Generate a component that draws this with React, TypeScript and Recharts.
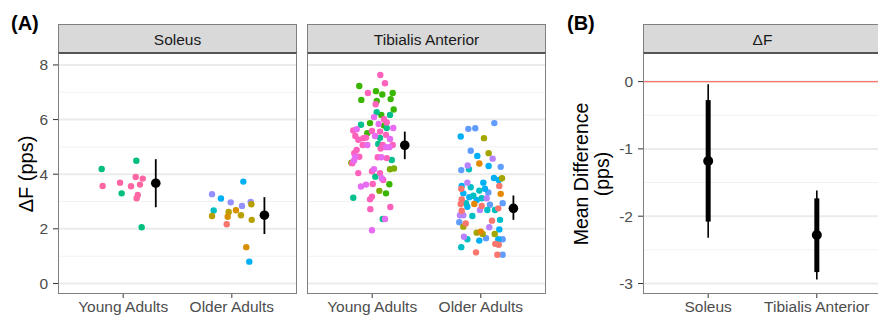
import { ScatterChart, Scatter, XAxis, YAxis, ReferenceLine, ErrorBar } from 'recharts';

const groupLabels = ['Young Adults', 'Older Adults'];
const muscleLabels = ['Soleus', 'Tibialis Anterior'];
const dfTicks = [0, 2, 4, 6, 8];
const dfMinor = [1, 3, 5, 7];
const diffTicks = [-3, -2, -1, 0];
const diffMinor = [-2.5, -1.5, -0.5];

// participant points: [jittered x position, ΔF (pps)]
const solYoungGreen = [[0.802, 4.19], [1.121, 4.49], [0.986, 3.3], [1.17, 2.06]];
const solYoungPink = [[0.811, 3.57], [0.971, 3.69], [1.072, 3.56], [1.115, 3.9], [1.18, 3.84], [1.155, 3.62], [1.134, 3.24], [1.124, 3.12]];
const solOldLavender = [[1.818, 3.27], [1.99, 2.97], [2.094, 2.84], [2.174, 2.98]];
const solOldBlue = [[1.9, 3.11], [2.106, 3.73], [2.161, 0.8]];
const solOldTeal = [[1.833, 2.67]];
const solOldOlive = [[2.18, 2.9], [1.818, 2.47], [1.971, 2.62], [2.084, 2.5], [2.183, 2.33]];
const solOldOrange = [[2.038, 2.68], [1.962, 2.44], [2.133, 1.33]];
const solOldSalmon = [[1.953, 2.17]];

const taYoungPink = [[1.075, 7.63], [1.118, 7.33], [0.961, 6.97], [1.032, 6.56], [1.109, 6.01], [1.134, 5.89], [0.826, 5.6], [0.998, 5.58], [1.072, 5.56], [0.845, 5.4], [1.127, 5.44], [0.918, 5.32], [0.872, 5.26], [0.943, 5.34], [0.913, 5.07], [1.097, 5.07], [1.189, 5.07], [1.078, 4.94], [0.857, 4.89], [0.835, 4.77], [0.881, 4.64], [1.051, 4.62], [1.134, 4.59], [0.817, 4.4], [0.872, 4.04], [0.998, 4.11], [1.072, 4.04], [1.102, 3.79], [1.005, 3.64], [0.998, 3.18], [0.98, 3.08], [1.167, 2.8], [0.983, 2.72]];
const taYoungMagenta = [[1.017, 6.09], [1.06, 5.84], [1.194, 5.69], [0.857, 5.65], [1.026, 5.4], [1.164, 5.29], [0.955, 5.07], [1.127, 4.99], [1.158, 4.99], [0.845, 4.64], [1.084, 4.62], [0.833, 4.5], [1.017, 4.18], [1.088, 3.85], [0.943, 3.62], [0.897, 3.55], [1.118, 2.36], [0.998, 1.95]];
const taYoungGreen = [[0.881, 7.23], [1.035, 7.04], [1.093, 6.92], [1.189, 6.97], [0.9, 6.72], [1.042, 6.68], [1.17, 6.75], [1.198, 6.37], [1.084, 6.17], [0.98, 5.87], [1.109, 5.78], [0.955, 5.5], [1.158, 3.63], [1.127, 3.3]];
const taYoungTeal = [[1.042, 6.27], [1.164, 6.17], [0.897, 5.81], [1.134, 5.69], [1.072, 5.33], [1.056, 5.11], [1.18, 4.52], [1.029, 3.91], [0.826, 3.14], [1.097, 2.36]];
const taYoungOlive = [[0.808, 4.42], [1.164, 4.18], [1.201, 4.21], [1.066, 3.39]];

const taOldBlue = [[2.124, 5.87], [1.885, 5.66], [1.949, 5.68], [1.907, 4.86], [2.183, 4.27], [1.82, 4.15], [2.069, 3.33], [2.201, 2.94], [2.084, 2.88], [1.802, 2.24], [2.048, 1.66], [2.201, 1.62], [2.201, 1.05]];
const taOldCyan = [[1.815, 5.38], [1.968, 4.67], [2.072, 4.3], [2.121, 3.86], [2.165, 3.79], [2.023, 3.69], [1.824, 3.57], [2.038, 3.47], [1.839, 3.3], [1.894, 3.16], [1.962, 3.06], [1.876, 2.81], [2.17, 1.98], [1.986, 1.57], [2.161, 1.62]];
const taOldTeal = [[1.891, 4.18], [1.907, 3.52], [1.986, 3.4], [1.931, 3.21], [2.008, 3.12], [1.864, 2.94], [2.06, 2.69], [2.13, 2.69], [1.922, 2.47], [2.177, 2.33], [1.876, 1.62], [1.82, 1.33]];
const taOldOlive = [[2.029, 5.32], [2.072, 4.77], [2.195, 3.85], [1.839, 2.08], [1.962, 1.86], [2.017, 1.81], [2.128, 1.81]];
const taOldOrange = [[1.986, 4.39], [2.183, 3.28], [1.94, 2.91], [1.999, 1.9]];
const taOldLavender = [[2.109, 4.57], [1.879, 4.32], [1.876, 3.69], [2.054, 3.12], [1.992, 2.69], [1.808, 2.5], [1.839, 2.5], [2.078, 2.06], [1.845, 1.71]];
const taOldSalmon = [[2.17, 3.57], [1.82, 3.47], [1.824, 3.08], [1.815, 2.91], [2.008, 2.84], [2.161, 2.75], [1.824, 2.66], [2.103, 2.3], [1.861, 2.2], [2.133, 1.45], [2.165, 1.42], [1.956, 1.14], [2.152, 1.05]];

// group means with intervals (young, older)
const solMean = [3.67, 2.5];
const solLo = [2.79, 1.81];
const solHi = [4.55, 3.16];
const taMean = [5.06, 2.75];
const taLo = [4.55, 2.33];
const taHi = [5.56, 3.22];

// (B) mean difference by muscle
const diffMean = [-1.18, -2.28];
const diffLo95 = [-2.32, -2.94];
const diffHi95 = [-0.04, -1.62];
const diffLo66 = [-2.08, -2.83];
const diffHi66 = [-0.275, -1.735];

const font = '"Liberation Sans", Arial, Helvetica, sans-serif';
const tickStyle = { fill: '#4D4D4D', fontSize: 15.5, fontFamily: font };

const pts = (a: number[][]) => a.map(([x, y]) => ({ x, y }));
const dodge = 0.3;
const meanData = (m: number[], lo: number[], hi: number[]) =>
  m.map((y, i) => ({ x: i + 1 + dodge, y, err: [y - lo[i], hi[i] - y] }));

const dot = (r: number) => (p: any) => <circle cx={p.cx} cy={p.cy} r={r} fill={p.fill} />;

const solSeries = [
  { d: solYoungGreen, c: '#00BF7D' },
  { d: solYoungPink, c: '#FF67A4' },
  { d: solOldLavender, c: '#9590FF' },
  { d: solOldBlue, c: '#00B0F6' },
  { d: solOldTeal, c: '#00BFC4' },
  { d: solOldOlive, c: '#B79F00' },
  { d: solOldOrange, c: '#D89000' },
  { d: solOldSalmon, c: '#F8766D' },
];

const taSeries = [
  { d: taYoungGreen, c: '#39B600' },
  { d: taYoungTeal, c: '#00C08B' },
  { d: taYoungOlive, c: '#7CAE00' },
  { d: taYoungPink, c: '#FF62BC' },
  { d: taYoungMagenta, c: '#E76BF3' },
  { d: taOldBlue, c: '#619CFF' },
  { d: taOldCyan, c: '#00B0F6' },
  { d: taOldTeal, c: '#00BFC4' },
  { d: taOldOlive, c: '#A3A500' },
  { d: taOldOrange, c: '#E58700' },
  { d: taOldLavender, c: '#B983FF' },
  { d: taOldSalmon, c: '#F8766D' },
];

function Strip({ left, label }: { left: number; label: string }) {
  return (
    <>
      <div style={{
        position: 'absolute', left, top: 24, width: 239, height: 29, boxSizing: 'border-box',
        background: '#D9D9D9', border: '1px solid #808080', borderBottom: 'none',
        fontSize: 15.5, color: '#1A1A1A', textAlign: 'center', lineHeight: '29px',
      }}>{label}</div>
      <div style={{ position: 'absolute', left, top: 52, width: 239, height: 2, background: '#555' }} />
      <div style={{
        position: 'absolute', left, top: 53, width: 239, height: 241, boxSizing: 'border-box',
        border: '1px solid #808080', borderTop: 'none', pointerEvents: 'none',
      }} />
    </>
  );
}

function DfPanel({ left, margin, showY, series, mean }: any) {
  return (
    <div style={{ position: 'absolute', left, top: 0 }}>
      <ScatterChart width={margin.w} height={318} margin={{ top: 54, right: margin.r, bottom: 0, left: margin.l }}>
        <XAxis type="number" dataKey="x" domain={[0.4, 2.6]} ticks={[1, 2]} allowDataOverflow
          tickFormatter={(v) => groupLabels[v - 1]} height={24} axisLine={false}
          tickLine={{ stroke: '#333' }} tickSize={4} tickMargin={3} tick={tickStyle} />
        <YAxis type="number" dataKey="y" domain={[-0.385, 8.4]} ticks={dfTicks} allowDataOverflow
          hide={!showY} width={24} axisLine={false} tickLine={{ stroke: '#333' }} tickSize={5}
          tickMargin={5} tick={tickStyle} />
        {dfMinor.map((v) => <ReferenceLine key={'m' + v} y={v} stroke="#F2F2F2" strokeWidth={1} />)}
        {dfTicks.map((v) => <ReferenceLine key={'M' + v} y={v} stroke="#EBEBEB" strokeWidth={2} />)}
        {series.map((s: any, i: number) => (
          <Scatter key={i} data={pts(s.d)} fill={s.c} shape={dot(3.2)} isAnimationActive={false} />
        ))}
        <Scatter data={mean} fill="#000" shape={dot(4.8)} isAnimationActive={false}>
          <ErrorBar dataKey="err" direction="y" width={0} stroke="#000" strokeWidth={1.8} />
        </Scatter>
      </ScatterChart>
    </div>
  );
}

export default function App() {
  const diffData = diffMean.map((y, i) => ({
    x: i + 1, y,
    ci95: [y - diffLo95[i], diffHi95[i] - y],
    ci66: [y - diffLo66[i], diffHi66[i] - y],
  }));

  return (
    <div style={{ position: 'absolute', left: 0, top: 0, width: 878, height: 318, overflow: 'hidden', background: '#fff', fontFamily: font }}>
      <DfPanel left={0} margin={{ w: 300, l: 34, r: 3 }} showY series={solSeries} mean={meanData(solMean, solLo, solHi)} />
      <DfPanel left={300} margin={{ w: 250, l: 7, r: 4 }} showY={false} series={taSeries} mean={meanData(taMean, taLo, taHi)} />

      <div style={{ position: 'absolute', left: 560, top: 0 }}>
        <ScatterChart width={322} height={318} margin={{ top: 54, right: 0, bottom: 0, left: 43 }}>
          <XAxis type="number" dataKey="x" domain={[0.4, 2.6]} ticks={[1, 2]} allowDataOverflow
            tickFormatter={(v) => muscleLabels[v - 1]} height={24} axisLine={false}
            tickLine={{ stroke: '#333' }} tickSize={4} tickMargin={3} tick={tickStyle} />
          <YAxis type="number" dataKey="y" domain={[-3.156, 0.41]} ticks={diffTicks} allowDataOverflow
            width={40} axisLine={false} tickLine={{ stroke: '#333' }} tickSize={5} tickMargin={5} tick={tickStyle} />
          {diffMinor.map((v) => <ReferenceLine key={'m' + v} y={v} stroke="#F2F2F2" strokeWidth={1} />)}
          {diffTicks.map((v) => <ReferenceLine key={'M' + v} y={v} stroke="#EBEBEB" strokeWidth={2} />)}
          <ReferenceLine y={0} stroke="#F8766D" strokeWidth={1.2} />
          <Scatter data={diffData} fill="#000" shape={dot(5)} isAnimationActive={false}>
            <ErrorBar dataKey="ci95" direction="y" width={0} stroke="#000" strokeWidth={1.6} />
            <ErrorBar dataKey="ci66" direction="y" width={0} stroke="#000" strokeWidth={5} />
          </Scatter>
        </ScatterChart>
      </div>

      <Strip left={58} label={muscleLabels[0]} />
      <Strip left={307} label={muscleLabels[1]} />
      <Strip left={643} label="ΔF" />

      <div style={{ position: 'absolute', left: 11, top: 11, fontSize: 20, fontWeight: 'bold', lineHeight: '24px' }}>(A)</div>
      <div style={{ position: 'absolute', left: 567, top: 11, fontSize: 20, fontWeight: 'bold', lineHeight: '24px' }}>(B)</div>

      <div style={{ position: 'absolute', left: 26, top: 174, transform: 'translate(-50%, -50%) rotate(-90deg)', whiteSpace: 'nowrap', fontSize: 20 }}>ΔF (pps)</div>
      <div style={{ position: 'absolute', left: 592, top: 174, transform: 'translate(-50%, -50%) rotate(-90deg)', whiteSpace: 'nowrap', fontSize: 19.5, lineHeight: '21px', textAlign: 'center' }}>
        Mean Difference<br />(pps)
      </div>
    </div>
  );
}
